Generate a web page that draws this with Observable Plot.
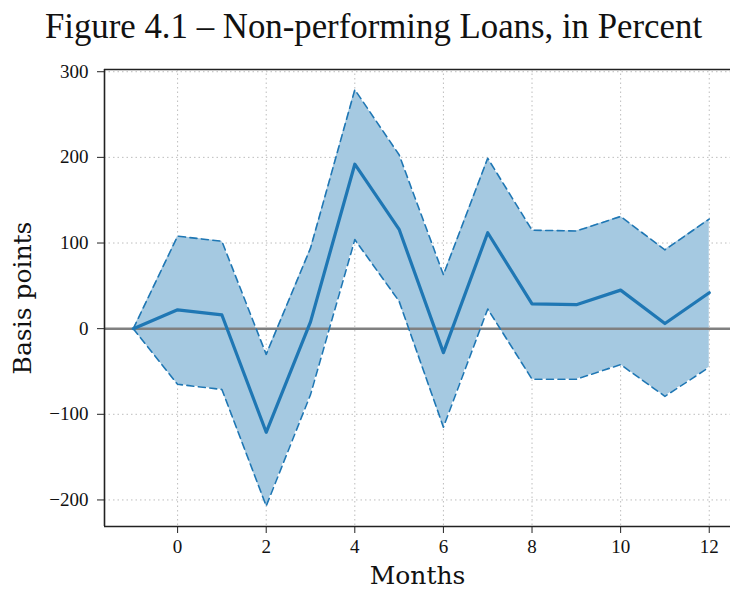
<!DOCTYPE html>
<html><head><meta charset="utf-8">
<script src="https://cdn.jsdelivr.net/npm/d3@7"></script>
<script src="https://cdn.jsdelivr.net/npm/@observablehq/plot@0.6"></script>
<style>
body{margin:0;background:#fff;width:730px;overflow:hidden}
#title{box-sizing:border-box;width:730px;height:60px;padding-top:9px;padding-left:17px;font-family:"Liberation Serif",serif;font-size:34.8px;text-align:center;line-height:35px;color:#111;white-space:nowrap;}
svg{overflow:hidden}
</style></head><body>
<div id="title">Figure 4.1 – Non-performing Loans, in Percent</div>
<div id="chart"></div>
<script>
const months = [-1,0,1,2,3,4,5,6,7,8,9,10,11,12];
const center = [0,22,16,-121,8,192,116,-28,112,29,28,45,6,42];
const upper  = [0,108,102,-30,94,279,203,63,199,115,114,131,92,128];
const lower  = [0,-65,-71,-207,-77,104,32,-115,23,-59,-59,-42,-79,-45];
const xTicks = [0,2,4,6,8,10,12];
const yTicks = [-200,-100,0,100,200,300];
const xDomain = [-1.65, 12.48];
const yDomain = [-231, 302.6];

const data = months.map((m,i)=>({m, c:center[i], u:upper[i], l:lower[i]}));
const blue = "#1f77b4";
const fmt = d => d < 0 ? "\u2212" + Math.abs(d) : String(d);

const chart = Plot.plot({
  width: 730, height: 531,
  marginTop: 9, marginBottom: 65, marginLeft: 104, marginRight: 0,
  style: {fontFamily: "Liberation Serif, serif", fontSize: "19px", color: "#111", background: "#fff"},
  x: {domain: xDomain, label: null},
  y: {domain: yDomain, label: null},
  marks: [
    Plot.gridX(xTicks, {stroke: "#bdbdbd", strokeOpacity: 1, strokeDasharray: "1.5,3", strokeWidth: 1}),
    Plot.gridY(yTicks, {stroke: "#bdbdbd", strokeOpacity: 1, strokeDasharray: "1.5,3", strokeWidth: 1}),
    Plot.areaY(data, {x: "m", y1: "l", y2: "u", fill: "#a5c9e1", fillOpacity: 1}),
    Plot.ruleY([0], {stroke: "#808080", strokeWidth: 2.5}),
    Plot.line(data, {x: "m", y: "u", stroke: blue, strokeWidth: 1.6, strokeDasharray: "7,4.5"}),
    Plot.line(data, {x: "m", y: "l", stroke: blue, strokeWidth: 1.6, strokeDasharray: "7,4.5"}),
    Plot.line(data, {x: "m", y: "c", stroke: blue, strokeWidth: 3.2}),
    Plot.ruleX([xDomain[0]], {stroke: "#222", strokeWidth: 1.6}),
    Plot.ruleY([yDomain[0]], {stroke: "#222", strokeWidth: 1.6}),
    Plot.ruleY([yDomain[1]], {stroke: "#222", strokeWidth: 1.6}),
    Plot.axisX(xTicks, {tickSize: 7, tickPadding: 6, fontSize: 19, label: null, stroke: "#222", fill: "#111"}),
    Plot.axisY(yTicks, {tickSize: 7, tickPadding: 9, fontSize: 19, label: null, tickFormat: fmt, stroke: "#222", fill: "#111"}),
    Plot.text(["Months"], {frameAnchor: "bottom", dy: 57, fontSize: 25, fontFamily: "DejaVu Serif, serif", fill: "#111"}),
    Plot.text(["Basis points"], {frameAnchor: "left", textAnchor: "middle", dx: -82, rotate: -90, fontSize: 25, fontFamily: "DejaVu Serif, serif", fill: "#111"})
  ]
});
document.getElementById("chart").appendChild(chart);
</script>
</body></html>
